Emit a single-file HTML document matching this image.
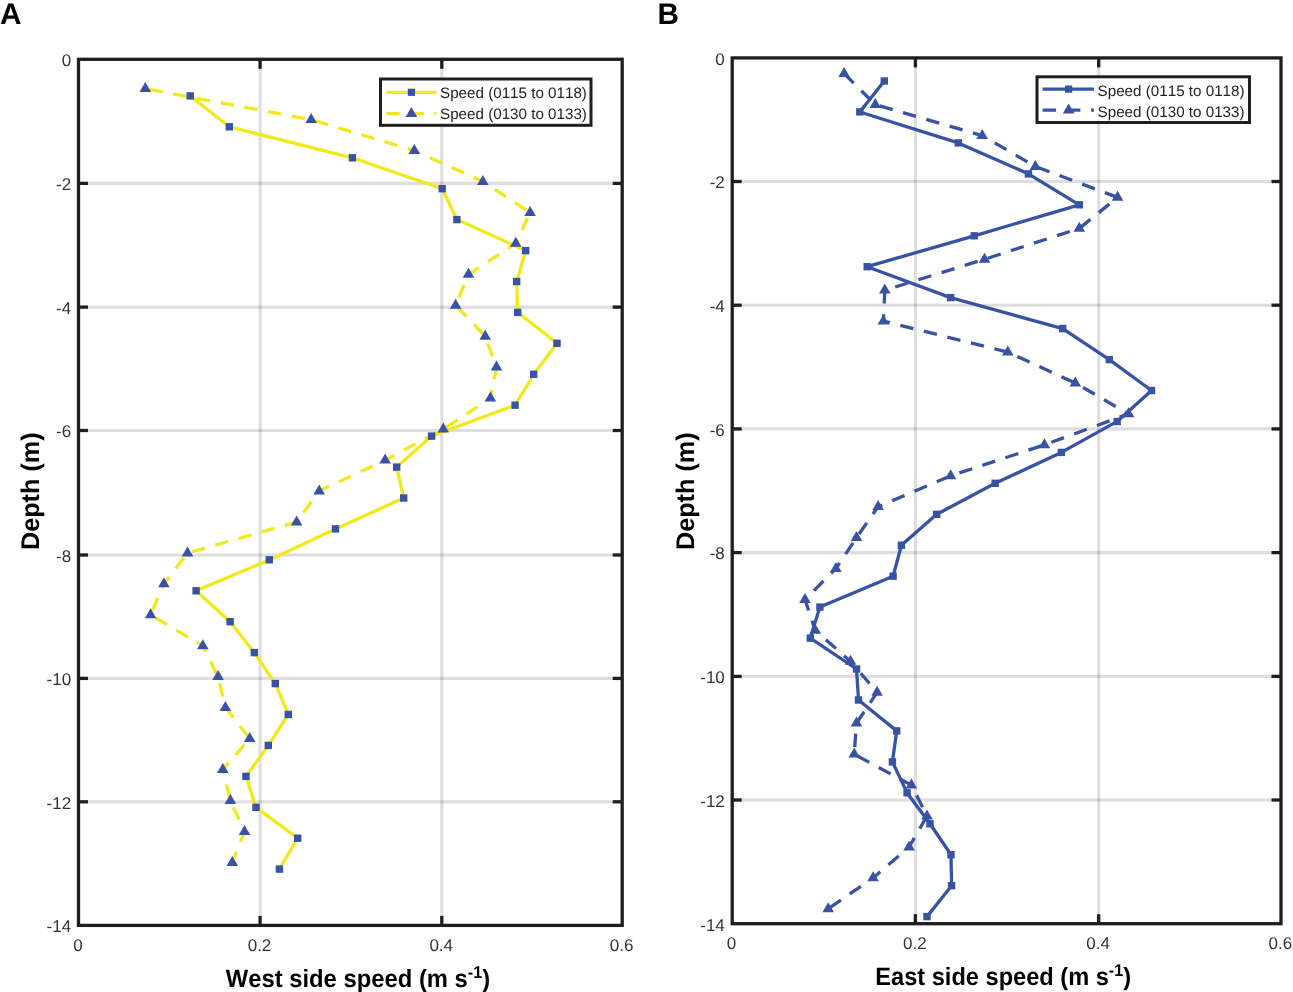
<!DOCTYPE html>
<html lang="en"><head><meta charset="utf-8"><title>Speed profiles</title>
<style>html,body{margin:0;padding:0;background:#fff}body{width:1293px;height:992px;overflow:hidden}svg{display:block}text{font-family:"Liberation Sans",sans-serif;font-kerning:none;text-rendering:geometricPrecision}svg{will-change:transform;opacity:.999}</style>
</head><body>
<svg width="1293" height="992" viewBox="0 0 1293 992">
<rect width="1293" height="992" fill="#fff"/>
<!-- panel A -->
<g stroke="#1c241c" stroke-opacity="0.15" stroke-width="3.1" fill="none">
<line x1="260.1" y1="59.3" x2="260.1" y2="925.4"/>
<line x1="441.8" y1="59.3" x2="441.8" y2="925.4"/>
<line x1="78.5" y1="183.4" x2="622.2" y2="183.4"/>
<line x1="78.5" y1="307.1" x2="622.2" y2="307.1"/>
<line x1="78.5" y1="430.5" x2="622.2" y2="430.5"/>
<line x1="78.5" y1="555" x2="622.2" y2="555"/>
<line x1="78.5" y1="678.4" x2="622.2" y2="678.4"/>
<line x1="78.5" y1="801.8" x2="622.2" y2="801.8"/>
</g>
<polyline points="145.3,88.7 311.2,119.7 414.3,150.6 482.8,181.6 530.1,212.5 515.8,243.4 468.5,274.4 455.6,305.4 485.2,336.3 496.5,367.2 490.4,398.2 443.3,429.1 385.1,460.1 319.2,491 296.6,522 187.5,553 163.9,583.9 150.6,614.9 202.8,645.8 218.1,676.8 225.4,707.7 249.7,738.6 222.8,769.6 230.4,800.6 244.5,831.5 232.3,862.5" fill="none" stroke="#f0ea1b" stroke-width="3.3" stroke-dasharray="13.4 10.7" stroke-dashoffset="19.8" stroke-linejoin="round"/>
<polyline points="190.2,95.9 229.3,126.8 352.4,157.8 442.2,188.7 456.9,219.6 525.7,250.6 516.7,281.5 517.7,312.4 557,343.3 533.7,374.3 515.1,405.2 431.6,436.1 396.7,467.1 403.7,498 335.5,528.9 269.3,559.9 196.1,590.8 230.1,621.7 254.3,652.6 275.3,683.6 288.3,714.5 268.3,745.4 246,776.4 256,807.3 297.7,838.2 279.4,869.1" fill="none" stroke="#f0ea1b" stroke-width="3.3" stroke-linejoin="round"/>
<g><path d="M145.3 82.1L151.1 92.1L139.5 92.1Z" fill="#3953a4"/><path d="M311.2 113.1L317 123.1L305.4 123.1Z" fill="#3953a4"/><path d="M414.3 144L420.1 154L408.5 154Z" fill="#3953a4"/><path d="M482.8 175L488.6 185L477 185Z" fill="#3953a4"/><path d="M530.1 205.9L535.9 215.9L524.3 215.9Z" fill="#3953a4"/><path d="M515.8 236.8L521.6 246.8L510 246.8Z" fill="#3953a4"/><path d="M468.5 267.8L474.3 277.8L462.7 277.8Z" fill="#3953a4"/><path d="M455.6 298.8L461.4 308.8L449.8 308.8Z" fill="#3953a4"/><path d="M485.2 329.7L491 339.7L479.4 339.7Z" fill="#3953a4"/><path d="M496.5 360.6L502.3 370.6L490.7 370.6Z" fill="#3953a4"/><path d="M490.4 391.6L496.2 401.6L484.6 401.6Z" fill="#3953a4"/><path d="M443.3 422.5L449.1 432.5L437.5 432.5Z" fill="#3953a4"/><path d="M385.1 453.5L390.9 463.5L379.3 463.5Z" fill="#3953a4"/><path d="M319.2 484.4L325 494.4L313.4 494.4Z" fill="#3953a4"/><path d="M296.6 515.4L302.4 525.4L290.8 525.4Z" fill="#3953a4"/><path d="M187.5 546.4L193.3 556.4L181.7 556.4Z" fill="#3953a4"/><path d="M163.9 577.3L169.7 587.3L158.1 587.3Z" fill="#3953a4"/><path d="M150.6 608.2L156.4 618.2L144.8 618.2Z" fill="#3953a4"/><path d="M202.8 639.2L208.6 649.2L197 649.2Z" fill="#3953a4"/><path d="M218.1 670.1L223.9 680.1L212.3 680.1Z" fill="#3953a4"/><path d="M225.4 701.1L231.2 711.1L219.6 711.1Z" fill="#3953a4"/><path d="M249.7 732L255.5 742L243.9 742Z" fill="#3953a4"/><path d="M222.8 763L228.6 773L217 773Z" fill="#3953a4"/><path d="M230.4 794L236.2 804L224.6 804Z" fill="#3953a4"/><path d="M244.5 824.9L250.3 834.9L238.7 834.9Z" fill="#3953a4"/><path d="M232.3 855.9L238.1 865.9L226.5 865.9Z" fill="#3953a4"/></g>
<g><rect x="186.5" y="92.2" width="7.4" height="7.4" fill="#3953a4"/><rect x="225.6" y="123.1" width="7.4" height="7.4" fill="#3953a4"/><rect x="348.7" y="154.1" width="7.4" height="7.4" fill="#3953a4"/><rect x="438.5" y="185" width="7.4" height="7.4" fill="#3953a4"/><rect x="453.2" y="215.9" width="7.4" height="7.4" fill="#3953a4"/><rect x="522" y="246.9" width="7.4" height="7.4" fill="#3953a4"/><rect x="513" y="277.8" width="7.4" height="7.4" fill="#3953a4"/><rect x="514" y="308.7" width="7.4" height="7.4" fill="#3953a4"/><rect x="553.3" y="339.6" width="7.4" height="7.4" fill="#3953a4"/><rect x="530" y="370.6" width="7.4" height="7.4" fill="#3953a4"/><rect x="511.4" y="401.5" width="7.4" height="7.4" fill="#3953a4"/><rect x="427.9" y="432.4" width="7.4" height="7.4" fill="#3953a4"/><rect x="393" y="463.4" width="7.4" height="7.4" fill="#3953a4"/><rect x="400" y="494.3" width="7.4" height="7.4" fill="#3953a4"/><rect x="331.8" y="525.2" width="7.4" height="7.4" fill="#3953a4"/><rect x="265.6" y="556.1" width="7.4" height="7.4" fill="#3953a4"/><rect x="192.4" y="587.1" width="7.4" height="7.4" fill="#3953a4"/><rect x="226.4" y="618" width="7.4" height="7.4" fill="#3953a4"/><rect x="250.6" y="648.9" width="7.4" height="7.4" fill="#3953a4"/><rect x="271.6" y="679.9" width="7.4" height="7.4" fill="#3953a4"/><rect x="284.6" y="710.8" width="7.4" height="7.4" fill="#3953a4"/><rect x="264.6" y="741.7" width="7.4" height="7.4" fill="#3953a4"/><rect x="242.3" y="772.7" width="7.4" height="7.4" fill="#3953a4"/><rect x="252.3" y="803.6" width="7.4" height="7.4" fill="#3953a4"/><rect x="294" y="834.5" width="7.4" height="7.4" fill="#3953a4"/><rect x="275.7" y="865.4" width="7.4" height="7.4" fill="#3953a4"/></g>
<g stroke="#1f1f1f" stroke-width="3.3" fill="none">
<rect x="78.5" y="59.3" width="543.7" height="866.1"/>
<line x1="260.1" y1="59.3" x2="260.1" y2="68.8"/><line x1="260.1" y1="925.4" x2="260.1" y2="915.9"/>
<line x1="441.8" y1="59.3" x2="441.8" y2="68.8"/><line x1="441.8" y1="925.4" x2="441.8" y2="915.9"/>
<line x1="78.5" y1="183.4" x2="88" y2="183.4"/><line x1="622.2" y1="183.4" x2="612.7" y2="183.4"/>
<line x1="78.5" y1="307.1" x2="88" y2="307.1"/><line x1="622.2" y1="307.1" x2="612.7" y2="307.1"/>
<line x1="78.5" y1="430.5" x2="88" y2="430.5"/><line x1="622.2" y1="430.5" x2="612.7" y2="430.5"/>
<line x1="78.5" y1="555" x2="88" y2="555"/><line x1="622.2" y1="555" x2="612.7" y2="555"/>
<line x1="78.5" y1="678.4" x2="88" y2="678.4"/><line x1="622.2" y1="678.4" x2="612.7" y2="678.4"/>
<line x1="78.5" y1="801.8" x2="88" y2="801.8"/><line x1="622.2" y1="801.8" x2="612.7" y2="801.8"/>
</g>
<g font-size="17" fill="#333333">
<text x="71.1" y="66.1" text-anchor="end">0</text>
<text x="71.1" y="190.2" text-anchor="end">-2</text>
<text x="71.1" y="313.9" text-anchor="end">-4</text>
<text x="71.1" y="437.3" text-anchor="end">-6</text>
<text x="71.1" y="561.8" text-anchor="end">-8</text>
<text x="71.1" y="685.2" text-anchor="end">-10</text>
<text x="71.1" y="808.6" text-anchor="end">-12</text>
<text x="71.1" y="932.2" text-anchor="end">-14</text>
<text x="77.9" y="950.5" text-anchor="middle">0</text>
<text x="259.5" y="950.5" text-anchor="middle">0.2</text>
<text x="441.2" y="950.5" text-anchor="middle">0.4</text>
<text x="621.6" y="950.5" text-anchor="middle">0.6</text>
</g>
<rect x="380.5" y="79.0" width="210.5" height="46.3" fill="#fff" stroke="#1f1f1f" stroke-width="3"/>
<line x1="386.3" y1="92.3" x2="436.4" y2="92.3" stroke="#f0ea1b" stroke-width="3.3"/>
<rect x="407.8" y="88.7" width="7.2" height="7.2" fill="#3953a4"/>
<line x1="386.3" y1="113.6" x2="436.4" y2="113.6" stroke="#f0ea1b" stroke-width="3.3" stroke-dasharray="13.4 10.7"/>
<path d="M411.4 107L417.2 117L405.6 117Z" fill="#3953a4"/>
<g font-size="15.2" fill="#222"><text x="440.0" y="98.4">Speed (0115 to 0118)</text><text x="440.0" y="119.4">Speed (0130 to 0133)</text></g>
<text id="xlA" x="225.7" y="987" font-size="25" font-weight="bold" fill="#000" textLength="264.5" lengthAdjust="spacingAndGlyphs">West side speed (m s<tspan dy="-9.5" font-size="17">-1</tspan><tspan dy="9.5">)</tspan></text>
<text id="ylA" transform="translate(39 550) rotate(-90)" font-size="25.5" font-weight="bold" fill="#000" textLength="117.6" lengthAdjust="spacingAndGlyphs">Depth (m)</text>
<!-- panel B -->
<g stroke="#1c241c" stroke-opacity="0.15" stroke-width="3.1" fill="none">
<line x1="915.4" y1="57.9" x2="915.4" y2="923.7"/>
<line x1="1098.7" y1="57.9" x2="1098.7" y2="923.7"/>
<line x1="732.2" y1="181.5" x2="1281" y2="181.5"/>
<line x1="732.2" y1="305.2" x2="1281" y2="305.2"/>
<line x1="732.2" y1="428.9" x2="1281" y2="428.9"/>
<line x1="732.2" y1="552.6" x2="1281" y2="552.6"/>
<line x1="732.2" y1="676.4" x2="1281" y2="676.4"/>
<line x1="732.2" y1="800" x2="1281" y2="800"/>
</g>
<polyline points="844.1,73.7 875.3,104.6 982.2,135.6 1035.4,166.5 1117.6,197.4 1079.3,228.4 984.5,259.3 884.8,290.2 883.4,321.1 1007.8,352.1 1075.3,383 1128.5,413.9 1044.4,444.9 950.6,475.8 878.1,506.7 856.5,537.6 835.9,568.6 805,599.5 815.3,630.4 850.5,661.4 877.1,692.3 856.5,723.2 854.2,754.2 911.4,785.1 927,816 909.1,847 873.1,877.9 828.2,908.8" fill="none" stroke="#3953a4" stroke-width="3.3" stroke-dasharray="13.5 10.75" stroke-dashoffset="0" stroke-linejoin="round"/>
<polyline points="884.3,81 859.8,112 958.3,142.9 1028.4,173.8 1079.3,204.8 974.2,235.8 867.2,266.7 950.6,297.6 1062.7,328.6 1109.3,359.6 1151.5,390.5 1117.2,421.4 1061.4,452.4 995.2,483.3 936.7,514.3 901.4,545.2 893.1,576.2 819.9,607.1 810.3,638.1 856.5,669 858.5,700 896.7,730.9 892.4,761.9 907.1,792.9 930,823.8 951,854.8 951.6,885.7 927,916.6" fill="none" stroke="#3953a4" stroke-width="3.3" stroke-linejoin="round"/>
<g><path d="M844.1 67.1L849.9 77.1L838.3 77.1Z" fill="#3953a4"/><path d="M875.3 98L881.1 108L869.5 108Z" fill="#3953a4"/><path d="M982.2 129L988 139L976.4 139Z" fill="#3953a4"/><path d="M1035.4 159.9L1041.2 169.9L1029.6 169.9Z" fill="#3953a4"/><path d="M1117.6 190.8L1123.4 200.8L1111.8 200.8Z" fill="#3953a4"/><path d="M1079.3 221.8L1085.1 231.8L1073.5 231.8Z" fill="#3953a4"/><path d="M984.5 252.7L990.3 262.7L978.7 262.7Z" fill="#3953a4"/><path d="M884.8 283.6L890.6 293.6L879 293.6Z" fill="#3953a4"/><path d="M883.4 314.5L889.2 324.5L877.6 324.5Z" fill="#3953a4"/><path d="M1007.8 345.5L1013.6 355.5L1002 355.5Z" fill="#3953a4"/><path d="M1075.3 376.4L1081.1 386.4L1069.5 386.4Z" fill="#3953a4"/><path d="M1128.5 407.3L1134.3 417.3L1122.7 417.3Z" fill="#3953a4"/><path d="M1044.4 438.3L1050.2 448.3L1038.6 448.3Z" fill="#3953a4"/><path d="M950.6 469.2L956.4 479.2L944.8 479.2Z" fill="#3953a4"/><path d="M878.1 500.1L883.9 510.1L872.3 510.1Z" fill="#3953a4"/><path d="M856.5 531L862.3 541L850.7 541Z" fill="#3953a4"/><path d="M835.9 562L841.7 572L830.1 572Z" fill="#3953a4"/><path d="M805 592.9L810.8 602.9L799.2 602.9Z" fill="#3953a4"/><path d="M815.3 623.8L821.1 633.8L809.5 633.8Z" fill="#3953a4"/><path d="M850.5 654.8L856.3 664.8L844.7 664.8Z" fill="#3953a4"/><path d="M877.1 685.7L882.9 695.7L871.3 695.7Z" fill="#3953a4"/><path d="M856.5 716.6L862.3 726.6L850.7 726.6Z" fill="#3953a4"/><path d="M854.2 747.6L860 757.6L848.4 757.6Z" fill="#3953a4"/><path d="M911.4 778.5L917.2 788.5L905.6 788.5Z" fill="#3953a4"/><path d="M927 809.4L932.8 819.4L921.2 819.4Z" fill="#3953a4"/><path d="M909.1 840.4L914.9 850.4L903.3 850.4Z" fill="#3953a4"/><path d="M873.1 871.3L878.9 881.3L867.3 881.3Z" fill="#3953a4"/><path d="M828.2 902.2L834 912.2L822.4 912.2Z" fill="#3953a4"/></g>
<g><rect x="880.6" y="77.3" width="7.4" height="7.4" fill="#3953a4"/><rect x="856.1" y="108.2" width="7.4" height="7.4" fill="#3953a4"/><rect x="954.6" y="139.2" width="7.4" height="7.4" fill="#3953a4"/><rect x="1024.7" y="170.2" width="7.4" height="7.4" fill="#3953a4"/><rect x="1075.6" y="201.1" width="7.4" height="7.4" fill="#3953a4"/><rect x="970.5" y="232.1" width="7.4" height="7.4" fill="#3953a4"/><rect x="863.5" y="263" width="7.4" height="7.4" fill="#3953a4"/><rect x="946.9" y="293.9" width="7.4" height="7.4" fill="#3953a4"/><rect x="1059" y="324.9" width="7.4" height="7.4" fill="#3953a4"/><rect x="1105.6" y="355.9" width="7.4" height="7.4" fill="#3953a4"/><rect x="1147.8" y="386.8" width="7.4" height="7.4" fill="#3953a4"/><rect x="1113.5" y="417.8" width="7.4" height="7.4" fill="#3953a4"/><rect x="1057.7" y="448.7" width="7.4" height="7.4" fill="#3953a4"/><rect x="991.5" y="479.6" width="7.4" height="7.4" fill="#3953a4"/><rect x="933" y="510.6" width="7.4" height="7.4" fill="#3953a4"/><rect x="897.7" y="541.5" width="7.4" height="7.4" fill="#3953a4"/><rect x="889.4" y="572.5" width="7.4" height="7.4" fill="#3953a4"/><rect x="816.2" y="603.4" width="7.4" height="7.4" fill="#3953a4"/><rect x="806.6" y="634.4" width="7.4" height="7.4" fill="#3953a4"/><rect x="852.8" y="665.3" width="7.4" height="7.4" fill="#3953a4"/><rect x="854.8" y="696.3" width="7.4" height="7.4" fill="#3953a4"/><rect x="893" y="727.2" width="7.4" height="7.4" fill="#3953a4"/><rect x="888.7" y="758.2" width="7.4" height="7.4" fill="#3953a4"/><rect x="903.4" y="789.1" width="7.4" height="7.4" fill="#3953a4"/><rect x="926.3" y="820.1" width="7.4" height="7.4" fill="#3953a4"/><rect x="947.3" y="851" width="7.4" height="7.4" fill="#3953a4"/><rect x="947.9" y="882" width="7.4" height="7.4" fill="#3953a4"/><rect x="923.3" y="912.9" width="7.4" height="7.4" fill="#3953a4"/></g>
<g stroke="#1f1f1f" stroke-width="3.3" fill="none">
<rect x="732.2" y="57.9" width="548.8" height="865.8"/>
<line x1="915.4" y1="57.9" x2="915.4" y2="67.4"/><line x1="915.4" y1="923.7" x2="915.4" y2="914.2"/>
<line x1="1098.7" y1="57.9" x2="1098.7" y2="67.4"/><line x1="1098.7" y1="923.7" x2="1098.7" y2="914.2"/>
<line x1="732.2" y1="181.5" x2="741.7" y2="181.5"/><line x1="1281" y1="181.5" x2="1271.5" y2="181.5"/>
<line x1="732.2" y1="305.2" x2="741.7" y2="305.2"/><line x1="1281" y1="305.2" x2="1271.5" y2="305.2"/>
<line x1="732.2" y1="428.9" x2="741.7" y2="428.9"/><line x1="1281" y1="428.9" x2="1271.5" y2="428.9"/>
<line x1="732.2" y1="552.6" x2="741.7" y2="552.6"/><line x1="1281" y1="552.6" x2="1271.5" y2="552.6"/>
<line x1="732.2" y1="676.4" x2="741.7" y2="676.4"/><line x1="1281" y1="676.4" x2="1271.5" y2="676.4"/>
<line x1="732.2" y1="800" x2="741.7" y2="800"/><line x1="1281" y1="800" x2="1271.5" y2="800"/>
</g>
<g font-size="17" fill="#333333">
<text x="724.8" y="64.7" text-anchor="end">0</text>
<text x="724.8" y="188.3" text-anchor="end">-2</text>
<text x="724.8" y="312" text-anchor="end">-4</text>
<text x="724.8" y="435.7" text-anchor="end">-6</text>
<text x="724.8" y="559.4" text-anchor="end">-8</text>
<text x="724.8" y="683.2" text-anchor="end">-10</text>
<text x="724.8" y="806.8" text-anchor="end">-12</text>
<text x="724.8" y="930.5" text-anchor="end">-14</text>
<text x="731.5" y="948.8" text-anchor="middle">0</text>
<text x="914.8" y="948.8" text-anchor="middle">0.2</text>
<text x="1098.1" y="948.8" text-anchor="middle">0.4</text>
<text x="1280.4" y="948.8" text-anchor="middle">0.6</text>
</g>
<rect x="1037.0" y="76.8" width="212.5" height="45.7" fill="#fff" stroke="#1f1f1f" stroke-width="3"/>
<line x1="1042.6" y1="89.1" x2="1093.9" y2="89.1" stroke="#3953a4" stroke-width="3.3"/>
<rect x="1065" y="85.5" width="7.2" height="7.2" fill="#3953a4"/>
<line x1="1042.6" y1="110.1" x2="1093.9" y2="110.1" stroke="#3953a4" stroke-width="3.3" stroke-dasharray="13.5 10.75"/>
<path d="M1068.6 103.5L1074.4 113.5L1062.8 113.5Z" fill="#3953a4"/>
<g font-size="15.2" fill="#222"><text x="1097.6" y="95.8">Speed (0115 to 0118)</text><text x="1097.6" y="116.6">Speed (0130 to 0133)</text></g>
<text id="xlB" x="875.3" y="985" font-size="25" font-weight="bold" fill="#000" textLength="255.7" lengthAdjust="spacingAndGlyphs">East side speed (m s<tspan dy="-9.5" font-size="17">-1</tspan><tspan dy="9.5">)</tspan></text>
<text id="ylB" transform="translate(693.9 550) rotate(-90)" font-size="25.5" font-weight="bold" fill="#000" textLength="117.6" lengthAdjust="spacingAndGlyphs">Depth (m)</text>
<text x="0" y="24.1" font-size="29.7" font-weight="bold" fill="#000">A</text>
<text x="657.6" y="24.1" font-size="29.7" font-weight="bold" fill="#000">B</text>
</svg></body></html>
